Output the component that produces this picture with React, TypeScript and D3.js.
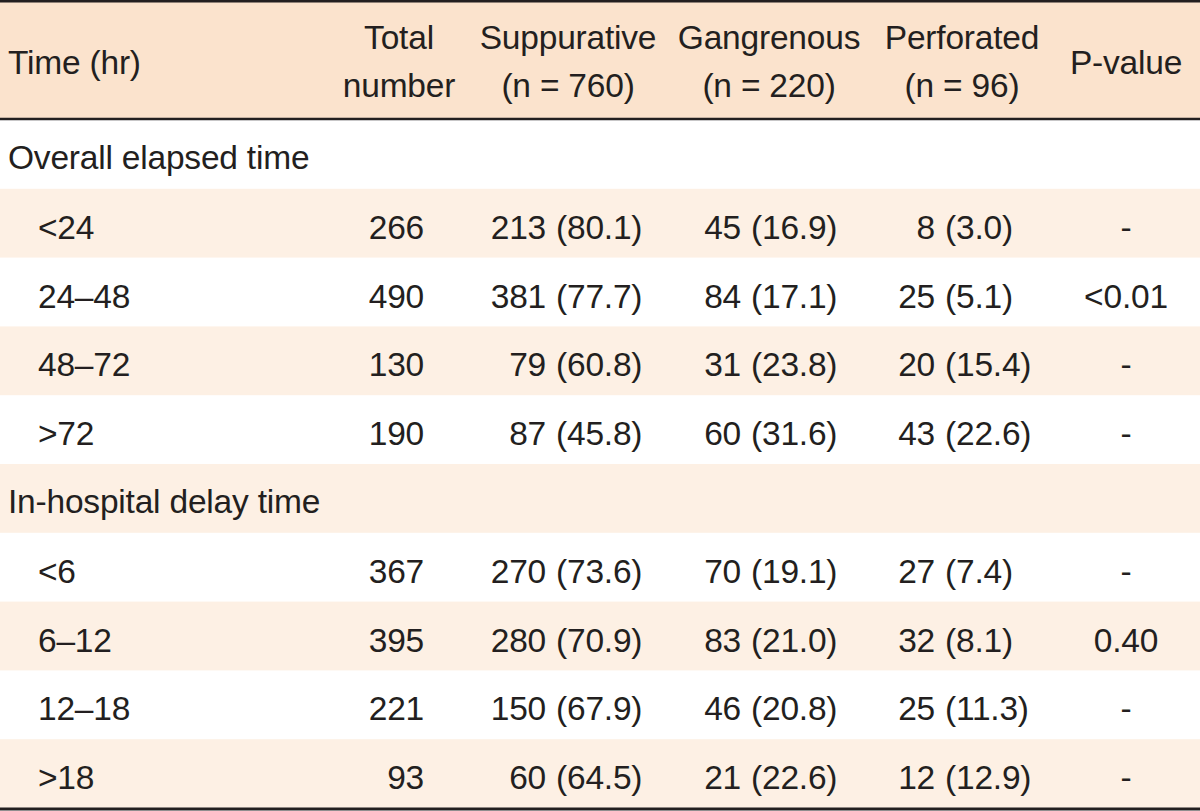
import React from "react";
import * as d3 from "d3";

// ---- data ----
const headerCols = [
  { lines: ["Total", "number"] },
  { lines: ["Suppurative", "(n = 760)"] },
  { lines: ["Gangrenous", "(n = 220)"] },
  { lines: ["Perforated", "(n = 96)"] },
  { lines: ["P-value"] },
];
const groupLabels = ["Overall elapsed time", "In-hospital delay time"];
const timeLabels = ["<24", "24–48", "48–72", ">72", "<6", "6–12", "12–18", ">18"];
const totals = [266, 490, 130, 190, 367, 395, 221, 93];
const suppN = [213, 381, 79, 87, 270, 280, 150, 60];
const suppPct = [80.1, 77.7, 60.8, 45.8, 73.6, 70.9, 67.9, 64.5];
const gangN = [45, 84, 31, 60, 70, 83, 46, 21];
const gangPct = [16.9, 17.1, 23.8, 31.6, 19.1, 21.0, 20.8, 22.6];
const perfN = [8, 25, 20, 43, 27, 32, 25, 12];
const perfPct = [3.0, 5.1, 15.4, 22.6, 7.4, 8.1, 11.3, 12.9];
const pValues = ["-", "<0.01", "-", "-", "-", "0.40", "-", "-"];

const W = 1200;
const H = 811;
const HEADER_H = 120;
const TEXT = "#231f20";
const HEADER_BG = "#fbe3cd";
const BAND_BG = "#fdf0e4";
const FONT = "'Liberation Sans', Arial, Helvetica, sans-serif";
const FS = 33.5;
const LS = -0.2;

type Row = { kind: "group" | "item"; label: string; idx: number };

export default function App() {
  const rows: Row[] = [];
  groupLabels.forEach((g, gi) => {
    rows.push({ kind: "group", label: g, idx: -1 });
    for (let k = 0; k < 4; k++) {
      const i = gi * 4 + k;
      rows.push({ kind: "item", label: timeLabels[i], idx: i });
    }
  });

  const y = d3
    .scaleBand<number>()
    .domain(d3.range(rows.length))
    .range([HEADER_H, 808])
    .paddingInner(0)
    .paddingOuter(0);

  const headerCenters = [399, 568, 769, 962, 1126];
  const totalEnd = 424;
  const pairCols = [
    { nEnd: 546, n: suppN, pct: suppPct },
    { nEnd: 741, n: gangN, pct: gangPct },
    { nEnd: 935, n: perfN, pct: perfPct },
  ];
  const pCenter = 1126;
  const fmt = d3.format(".1f");

  const textProps = {
    fontFamily: FONT,
    fontSize: FS,
    fill: TEXT,
    letterSpacing: LS,
  } as const;

  return (
    <div>
      <style>{`body{margin:0}`}</style>
      <svg width={W} height={H} style={{ display: "block" }}>
        <rect x={0} y={0} width={W} height={H} fill="#ffffff" />
        {/* header */}
        <rect x={0} y={0} width={W} height={HEADER_H} fill={HEADER_BG} />
        {/* bands */}
        {rows.map((r, i) =>
          i % 2 === 1 ? (
            <rect key={"b" + i} x={0} y={y(i)!} width={W} height={y.bandwidth()} fill={BAND_BG} />
          ) : null
        )}
        {/* rules */}
        <line x1={0} x2={W} y1={1.2} y2={1.2} stroke={TEXT} strokeWidth={2.5} />
        <line x1={0} x2={W} y1={119} y2={119} stroke={TEXT} strokeWidth={2.5} />
        <line x1={0} x2={W} y1={809} y2={809} stroke={TEXT} strokeWidth={3} />

        {/* header text */}
        <text {...textProps} x={8} y={74}>Time (hr)</text>
        {headerCols.map((c, ci) =>
          c.lines.length === 1 ? (
            <text key={"h" + ci} {...textProps} x={headerCenters[ci]} y={74} textAnchor="middle">
              {c.lines[0]}
            </text>
          ) : (
            c.lines.map((l, li) => (
              <text key={"h" + ci + "_" + li} {...textProps} x={headerCenters[ci]} y={49 + li * 48} textAnchor="middle">
                {l}
              </text>
            ))
          )
        )}

        {/* body */}
        {rows.map((r, i) => {
          const base = y(i)! + 50;
          if (r.kind === "group") {
            return (
              <text key={"r" + i} {...textProps} x={8} y={base - 1}>
                {r.label}
              </text>
            );
          }
          const k = r.idx;
          return (
            <g key={"r" + i}>
              <text {...textProps} x={38} y={base}>{r.label}</text>
              <text {...textProps} x={totalEnd} y={base} textAnchor="end">{totals[k]}</text>
              {pairCols.map((pc, pi) => (
                <g key={"p" + pi}>
                  <text {...textProps} x={pc.nEnd} y={base} textAnchor="end">{pc.n[k]}</text>
                  <text {...textProps} x={pc.nEnd + 10} y={base}>{"(" + fmt(pc.pct[k]) + ")"}</text>
                </g>
              ))}
              <text {...textProps} x={pCenter} y={base} textAnchor="middle">{pValues[k]}</text>
            </g>
          );
        })}
      </svg>
    </div>
  );
}
